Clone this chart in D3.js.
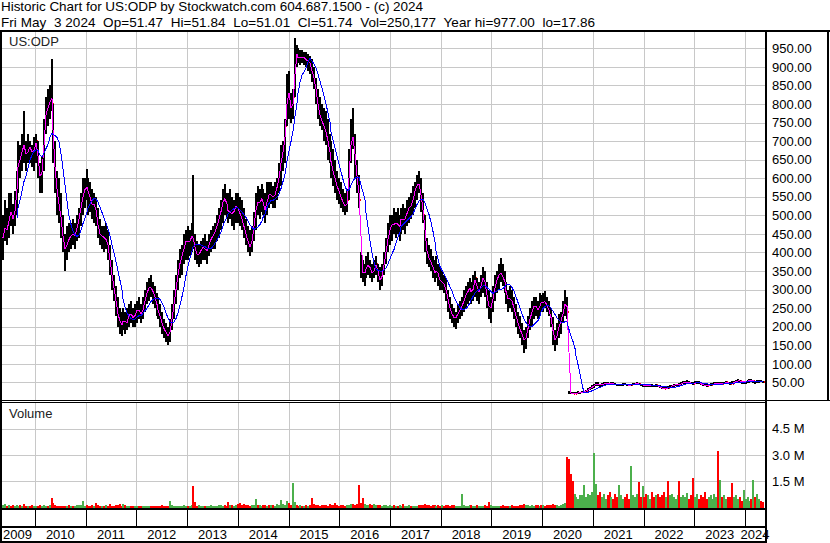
<!DOCTYPE html>
<html>
<head>
<meta charset="utf-8" />
<title>Historic Chart US:ODP</title>
<style>
  body { margin: 0; background: #fff; }
  svg { display: block; font-family: "Liberation Sans", Arial, sans-serif; font-size: 13px; }
  .grid line { stroke: #c8c8c8; shape-rendering: crispEdges; }
  .frame rect { fill: #000; shape-rendering: crispEdges; }
  .pre { white-space: pre; font-size: 13.5px; }
</style>
</head>
<body>
<svg id="chart" width="830" height="543"></svg>
<script src="https://cdn.jsdelivr.net/npm/d3@7"></script>
<script>
const titleLine = "Historic Chart for US:ODP by Stockwatch.com 604.687.1500 - (c) 2024";
const quoteLine = "Fri May  3 2024  Op=51.47  Hi=51.84  Lo=51.01  Cl=51.74  Vol=250,177  Year hi=977.00  lo=17.86";
const symbol = "US:ODP";

// one bar every two weeks, first bar on 2009-04-24
const firstBar = "2009-04-24";
const barStepDays = 14;

const priceTicks = [50, 100, 150, 200, 250, 300, 350, 400, 450, 500, 550, 600, 650, 700, 750, 800, 850, 900, 950];
const volumeTicks = [1.5, 3.0, 4.5]; // millions
const years = [2009, 2010, 2011, 2012, 2013, 2014, 2015, 2016, 2017, 2018, 2019, 2020, 2021, 2022, 2023, 2024];

const hi = [
  450,500,540,520,560,560,530,565,620,700,690,720,780,700,720,700,690,710, // 2009
  720,700,640,660,760,820,840,850,920,800,700,620,600,560,500,450,470,480,480,490,480,500,520,560,600,600, // 2010
  625,600,590,570,560,550,520,490,470,470,480,460,420,380,340,310,280,250,240,250,240,250,260,270,250,260, // 2011
  270,280,260,280,300,320,330,340,320,310,290,280,260,240,220,210,200,220,260,300,340,380,410,420,450,460, // 2012
  470,460,480,610,450,430,420,430,440,450,430,450,460,470,480,500,520,540,570,585,560,560,570,550,540,560, // 2013
  560,550,540,520,490,470,460,470,510,560,580,570,585,570,560,590,590,590,580,590,600,640,690,700,760,880, // 2014
  890,830,840,977,960,950,945,945,940,940,935,930,920,900,870,840,820,800,790,780,760,720,700,680,650,620, // 2015
  600,590,570,560,570,680,760,790,720,650,610,400,380,370,390,400,380,370,380,390,370,360,370,400,440,480,500, // 2016
  500,520,510,520,500,520,530,520,540,550,560,580,590,610,620,600,560,500,440,420,410,390,380,390,370,360, // 2017
  350,340,330,300,280,260,250,240,260,270,280,300,310,320,330,320,340,350,330,320,340,360,350,320,300,280, // 2018
  310,340,350,370,385,370,350,320,300,310,300,280,260,240,230,210,190,200,230,250,270,280,280,270,290,285, // 2019
  290,295,280,270,250,225,190,210,235,240,270,300,280,26,25,24,23,24,26,25,27,28,30,34,38,42, // 2020
  46,50,50,47,48,50,52,50,49,50,50,48,47,46,47,48,48,47,46,47,48,49,50,48,47,46, // 2021
  45,44,45,46,45,44,45,44,42,39,37,38,40,42,44,45,46,47,48,50,53,55,56,54,52,51, // 2022
  53,55,53,50,48,47,46,47,48,49,50,51,52,50,50,52,53,52,51,53,55,56,58,57,55,54, // 2023
  55,57,60,59,57,55,56,57,56,54 // 2024
];
const lo = [
  330,380,430,420,440,470,450,470,500,560,600,620,640,620,640,640,630,620,
  640,600,560,560,620,720,740,760,780,640,560,500,480,440,400,350,380,400,410,420,410,430,440,470,500,520,
  540,500,510,490,480,470,440,420,410,400,410,380,340,300,270,230,200,180,175,190,180,190,200,210,200,200,
  210,220,210,220,240,260,270,280,260,250,230,220,200,180,170,160,150,160,190,220,260,300,330,340,370,380,
  380,390,400,410,380,370,360,370,380,380,370,390,400,410,410,430,440,460,480,500,490,480,490,470,460,480,
  480,470,460,440,420,400,390,400,430,460,500,490,510,500,480,500,520,530,520,520,540,560,580,620,640,740,
  760,750,760,820,900,910,905,910,905,900,890,880,860,840,800,760,740,730,700,690,650,640,600,580,560,540,
  530,520,510,500,510,540,640,680,600,560,520,330,320,310,330,340,330,320,330,340,320,300,310,340,370,400,420,
  430,450,440,450,430,450,460,450,470,480,490,500,520,540,560,510,480,400,370,360,350,330,320,330,310,300,
  300,290,270,240,220,210,200,195,210,220,230,240,250,260,270,260,270,280,270,260,280,290,280,250,220,210,
  240,270,290,300,320,310,290,260,240,250,240,220,200,180,170,150,130,140,170,190,200,220,230,220,230,240,
  240,250,240,230,200,150,135,150,170,180,210,230,220,19,18,18,18,19,20,19,21,22,24,27,29,33,
  36,40,41,39,40,42,44,43,42,43,44,42,41,40,40,41,42,41,40,41,42,42,43,42,40,39,
  38,37,38,39,38,37,38,37,34,32,31,32,33,35,37,38,40,41,42,43,45,46,47,46,45,44,
  45,46,45,43,41,40,39,40,41,42,43,44,45,44,43,45,46,45,44,45,47,48,49,48,47,46,
  47,48,49,50,48,47,48,49,50,49
];
const cl = [
  420,460,470,450,520,500,480,540,600,660,640,700,680,650,690,680,660,690,
  700,620,590,640,740,800,780,830,800,660,600,540,520,470,420,400,440,430,460,440,450,480,500,540,560,580,
  570,560,540,520,540,490,460,440,450,430,440,400,360,320,290,250,220,210,200,230,200,220,240,230,220,240,
  250,240,230,260,280,300,310,300,290,270,250,240,220,200,190,180,170,200,240,280,320,360,380,400,420,440,
  420,440,450,430,400,390,400,410,420,400,410,430,440,450,460,480,500,520,550,540,520,505,510,500,520,530,
  510,500,480,460,440,420,410,450,490,540,530,540,550,520,510,560,550,560,540,570,580,620,660,680,740,860,
  800,780,820,940,930,920,930,920,930,910,920,900,880,860,820,780,760,750,730,720,680,660,630,610,590,570,
  560,540,530,520,540,660,720,700,630,580,540,350,340,350,360,370,350,340,360,370,330,320,350,380,420,450,470,
  480,470,490,460,480,500,480,500,510,530,520,560,570,590,580,530,500,420,390,380,370,350,340,360,330,320,
  320,310,290,260,240,230,220,230,240,250,260,280,290,300,310,280,320,330,290,300,320,340,300,270,240,260,
  290,320,330,350,340,330,310,280,270,280,260,240,220,200,190,170,160,180,210,230,250,260,250,240,270,260,
  270,265,250,240,210,170,160,190,210,220,250,270,240,22,21,20,20,21,22,23,24,25,28,31,35,38,
  44,45,44,42,45,47,48,46,45,47,46,44,43,44,45,45,44,43,42,44,45,46,47,45,43,44,
  41,40,42,43,41,40,42,39,36,34,33,36,34,39,41,43,44,45,44,48,50,50,52,49,48,47,
  49,51,48,45,43,42,41,43,44,45,46,48,47,48,47,49,50,48,47,46,52,53,55,53,51,52,
  52,54,56,54,55,51,53,54,52,51.74
];
// volume, millions of shares
const vol = [
  0.15,0.12,0.2,0.1,0.14,0.08,0.12,0.1,0.16,0.1,0.12,0.09,0.2,0.11,0.08,0.1,0.12,0.09,
  0.08,0.1,0.12,0.09,0.15,0.11,0.1,0.14,0.57,0.25,0.12,0.1,0.08,0.11,0.09,0.1,0.07,0.12,0.08,0.1,0.09,0.14,0.12,0.15,0.4,0.1,
  0.12,0.09,0.1,0.13,0.1,0.25,0.12,0.08,0.1,0.09,0.12,0.1,0.2,0.1,0.11,0.15,0.12,0.18,0.1,0.2,0.12,0.1,0.09,0.11,0.08,0.1,
  0.07,0.06,0.08,0.07,0.09,0.06,0.1,0.08,0.07,0.09,0.08,0.1,0.07,0.12,0.08,0.1,0.09,0.35,0.12,0.1,0.09,0.11,0.1,0.08,0.12,0.1,
  0.1,0.08,0.12,1.25,0.3,0.1,0.12,0.09,0.1,0.11,0.08,0.1,0.12,0.09,0.1,0.08,0.12,0.15,0.1,0.12,0.1,0.3,0.15,0.12,0.1,0.14,
  0.2,0.25,0.15,0.18,0.12,0.14,0.1,0.12,0.15,0.5,0.15,0.12,0.1,0.14,0.12,0.1,0.15,0.12,0.14,0.1,0.2,0.15,0.45,0.2,0.15,0.35,
  0.25,0.15,1.4,0.3,0.12,0.1,0.12,0.09,0.1,0.12,0.1,0.14,0.55,0.2,0.15,0.12,0.1,0.14,0.12,0.15,0.1,0.18,0.12,0.15,0.25,0.12,
  0.1,0.12,0.15,0.1,0.12,0.15,0.2,0.18,0.15,0.2,1.3,0.25,0.55,0.2,0.15,0.12,0.18,0.14,0.2,0.16,0.12,0.15,0.1,0.12,0.14,0.1,0.12,
  0.1,0.12,0.09,0.1,0.12,0.1,0.2,0.1,0.09,0.12,0.1,0.11,0.08,0.1,0.12,0.15,0.12,0.18,0.14,0.12,0.1,0.15,0.12,0.1,0.12,0.1,
  0.12,0.1,0.14,0.12,0.1,0.15,0.12,0.1,0.09,0.11,0.8,0.12,0.1,0.08,0.12,0.15,0.1,0.09,0.12,0.1,0.08,0.1,0.12,0.1,0.3,0.12,
  0.08,0.1,0.09,0.1,0.08,0.12,0.1,0.09,0.08,0.1,0.12,0.1,0.09,0.1,0.14,0.12,0.2,0.15,0.12,0.1,0.12,0.1,0.14,0.12,0.1,0.15,
  0.12,0.1,0.14,0.15,0.12,0.2,0.15,0.12,0.1,0.14,0.2,0.25,2.9,2.8,1.9,1.5,0.8,0.6,0.5,0.7,0.7,1.3,0.6,0.8,0.7,0.9,
  3.1,1.35,0.7,0.9,0.6,0.8,0.5,0.7,0.9,0.6,0.5,0.8,0.6,1.3,0.7,0.5,0.6,0.8,0.5,2.4,0.7,0.6,0.8,1.45,0.6,1.25,
  0.6,0.8,0.7,0.5,0.9,0.6,0.7,0.8,0.6,0.7,0.9,0.6,1.5,0.7,0.8,0.6,0.5,0.7,1.5,0.6,0.7,0.6,0.85,0.5,0.7,1.7,
  0.6,0.8,0.5,0.7,0.6,0.9,0.5,0.6,0.7,0.5,0.8,0.6,3.25,1.55,0.6,0.7,0.5,0.6,0.6,1.4,0.6,0.7,0.5,0.6,0.4,1.0,
  0.5,0.6,0.4,0.5,1.6,0.6,0.8,0.5,0.4,0.3
];

const svg = d3.select("#chart");
const plotRight = 765;

const start = d3.timeParse("%Y-%m-%d")(firstBar);
const dates = hi.map((_, i) => d3.timeDay.offset(start, i * barStepDays));

const x = d3.scaleTime()
  .domain([start, new Date(2024, 4, 24)])
  .range([0, plotRight]);
const yP = d3.scaleLinear().domain([0, 996.5]).range([401, 31]);
const yV = d3.scaleLinear().domain([0, 6]).range([507.5, 402.5]);

const bx = i => Math.round(x(dates[i]));

// header text, stretched to the widths measured on the original
svg.append("text").attr("class", "pre").attr("x", 1).attr("y", 10.5)
  .attr("textLength", 422).attr("lengthAdjust", "spacing").text(titleLine);
svg.append("text").attr("class", "pre").attr("x", 1).attr("y", 26.5)
  .attr("textLength", 594).attr("lengthAdjust", "spacing").text(quoteLine);

// grid
const grid = svg.append("g").attr("class", "grid");
const yearX = years.slice(1).map(yr => Math.round(x(new Date(yr, 0, 1))) + 0.5);
grid.selectAll(".vp").data(yearX).join("line")
  .attr("x1", d => d).attr("x2", d => d).attr("y1", 32).attr("y2", 400);
grid.selectAll(".vv").data(yearX).join("line").attr("class", "vv")
  .attr("x1", d => d).attr("x2", d => d).attr("y1", 403).attr("y2", 508);
grid.selectAll(".hp").data(priceTicks).join("line").attr("class", "hp")
  .attr("x1", 2).attr("x2", plotRight)
  .attr("y1", d => Math.round(yP(d)) + 0.5).attr("y2", d => Math.round(yP(d)) + 0.5);
grid.selectAll(".hv").data(volumeTicks).join("line").attr("class", "hv")
  .attr("x1", 2).attr("x2", plotRight)
  .attr("y1", d => Math.round(yV(d)) + 0.5).attr("y2", d => Math.round(yV(d)) + 0.5);

svg.append("text").attr("x", 9).attr("y", 46).attr("fill", "#222").text(symbol);
svg.append("text").attr("x", 9).attr("y", 418).attr("fill", "#222").text("Volume");

// volume bars
svg.append("g").selectAll("rect").data(d3.range(vol.length)).join("rect")
  .attr("x", i => bx(i)).attr("width", 2)
  .attr("y", i => Math.round(yV(vol[i])))
  .attr("height", i => 508 - Math.round(yV(vol[i])))
  .attr("fill", i => (i === 0 || cl[i] >= cl[i - 1]) ? "#4cb04c" : "#ff0000")
  .attr("shape-rendering", "crispEdges");

// price bars with close tick
const bars = svg.append("g").selectAll("g").data(d3.range(hi.length)).join("g")
  .attr("shape-rendering", "crispEdges");
bars.append("rect")
  .attr("x", i => bx(i)).attr("width", 2)
  .attr("y", i => Math.round(yP(hi[i])))
  .attr("height", i => Math.max(1, Math.round(yP(lo[i])) - Math.round(yP(hi[i]))))
  .attr("fill", "#000");
bars.append("rect")
  .attr("x", i => bx(i) + 2).attr("width", 1)
  .attr("y", i => Math.round(yP(cl[i])) - 1).attr("height", 2)
  .attr("fill", "#ff0000");

// moving averages
function sma(n) {
  const out = [];
  for (let i = n - 1; i < cl.length; i++) out.push({ i, v: d3.mean(cl.slice(i - n + 1, i + 1)) });
  return out;
}
const maLine = d3.line().x(d => bx(d.i) + 1).y(d => yP(d.v));
svg.append("path").datum(sma(2)).attr("d", maLine)
  .attr("fill", "none").attr("stroke", "#ff00ff").attr("stroke-width", 1)
  .attr("shape-rendering", "crispEdges");
svg.append("path").datum(sma(9)).attr("d", maLine)
  .attr("fill", "none").attr("stroke", "#0000ff").attr("stroke-width", 1)
  .attr("shape-rendering", "crispEdges");

// right axis labels
svg.selectAll(".pl").data(priceTicks).join("text").attr("class", "pl")
  .attr("x", 772).attr("y", d => yP(d)).attr("dy", "0.36em")
  .text(d => d.toFixed(2));
svg.selectAll(".vl").data(volumeTicks).join("text").attr("class", "vl")
  .attr("x", 772).attr("y", d => yV(d)).attr("dy", "0.36em")
  .text(d => d.toFixed(1) + " M");

// year ticks and labels
svg.append("g").attr("class", "frame").selectAll("rect").data(yearX).join("rect")
  .attr("x", d => d - 0.5).attr("y", 510).attr("width", 1).attr("height", 16);
svg.selectAll(".yl").data(years).join("text").attr("class", "yl")
  .attr("text-anchor", "middle").attr("y", 539)
  .attr("x", yr => {
    const a = Math.max(0, x(new Date(yr, 0, 1)));
    const b = Math.min(plotRight, x(new Date(yr + 1, 0, 1)));
    return (a + b) / 2;
  })
  .text(d => d);

// frame
const frame = svg.append("g").attr("class", "frame");
const box = (x0, y0, w, h) => frame.append("rect").attr("x", x0).attr("y", y0).attr("width", w).attr("height", h);
box(0, 30, 830, 2);        // top
box(0, 30, 2, 513);        // left
box(plotRight, 30, 2, 513);// plot right
box(827, 30, 2, 371);      // axis right
box(0, 400, 830, 1);       // price / volume
box(0, 402, plotRight, 1);
box(0, 508, plotRight, 2); // volume bottom
box(0, 526, plotRight, 2); // tick row bottom
box(0, 541, plotRight, 2); // bottom
</script>
</body>
</html>
